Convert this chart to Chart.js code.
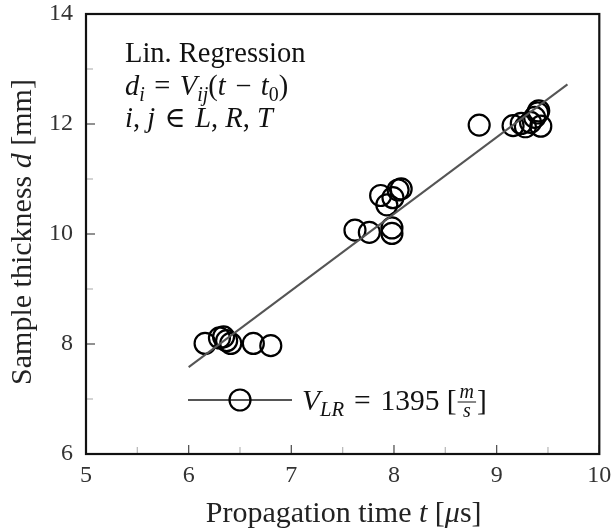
<!DOCTYPE html>
<html>
<head>
<meta charset="utf-8">
<script src="https://cdn.jsdelivr.net/npm/chart.js@4.4.0/dist/chart.umd.min.js"></script>
<style>
html,body{margin:0;padding:0;background:#fff;}
#wrap{width:612px;height:530px;}
</style>
</head>
<body>
<div id="wrap"><canvas id="c" width="612" height="530"></canvas></div>
<script>
// ---- data ----
const timeValues = [6.16, 6.30, 6.34, 6.37, 6.41, 6.63, 6.80,
                    7.62, 7.76, 7.87, 7.93, 7.99, 7.98, 7.98, 8.04, 8.07,
                    8.83, 9.16, 9.24, 9.28, 9.33, 9.37, 9.40, 9.41, 9.43];
const thicknessValues = [8.01, 8.11, 8.13, 8.06, 8.01, 8.01, 7.97,
                         10.07, 10.03, 10.70, 10.53, 10.66, 10.11, 10.01, 10.80, 10.82,
                         11.98, 11.97, 12.01, 11.95, 12.03, 12.12, 12.20, 12.24, 11.96];
const fitTime = [6.0, 9.69];
const fitThickness = [7.58, 12.72];
const xTicks = [5, 6, 7, 8, 9, 10];
const yTicks = [6, 8, 10, 12, 14];
const legendLabel = 'V_LR = 1395 [m/s]';

const SERIF = '"Liberation Serif", "DejaVu Serif", serif';

function segFont(s, size) {
  const sz = s.sub ? size * 0.7 : size;
  return (s.i ? 'italic ' : '') + sz + 'px ' + SERIF;
}
function richWidth(ctx, segs, size) {
  let w = 0;
  for (const s of segs) {
    ctx.font = segFont(s, size);
    w += ctx.measureText(s.t).width;
  }
  return w;
}
function drawRich(ctx, x, y, segs, size, align) {
  const w = richWidth(ctx, segs, size);
  let cx = align === 'center' ? x - w / 2 : x;
  ctx.textBaseline = 'alphabetic';
  ctx.textAlign = 'left';
  for (const s of segs) {
    ctx.font = segFont(s, size);
    const dy = s.sub ? size * 0.22 : 0;
    ctx.fillText(s.t, cx, y + dy);
    cx += ctx.measureText(s.t).width;
  }
  return cx;
}

const points = timeValues.map((t, i) => ({x: t, y: thicknessValues[i]}));
const fitLine = fitTime.map((t, i) => ({x: t, y: fitThickness[i]}));

const OP = '\u2004';

const decorPlugin = {
  id: 'decor',
  afterDatasetsDraw(chart) {
    const ctx = chart.ctx;
    const a = chart.chartArea;
    const xs = chart.scales.x, ys = chart.scales.y;
    ctx.save();
    // inward tick marks
    xs.ticks.forEach(tk => {
      const px = xs.getPixelForValue(tk.value);
      const major = xTicks.includes(tk.value);
      ctx.strokeStyle = major ? '#555' : '#bbb';
      ctx.lineWidth = 1.3;
      ctx.beginPath();
      ctx.moveTo(px, a.bottom);
      ctx.lineTo(px, a.bottom - (major ? 9 : 7));
      ctx.stroke();
    });
    ys.ticks.forEach(tk => {
      const py = ys.getPixelForValue(tk.value);
      const major = yTicks.includes(tk.value);
      ctx.strokeStyle = major ? '#555' : '#bbb';
      ctx.lineWidth = 1.3;
      ctx.beginPath();
      ctx.moveTo(a.left, py);
      ctx.lineTo(a.left + (major ? 9 : 7), py);
      ctx.stroke();
    });
    // frame
    ctx.strokeStyle = '#111';
    ctx.lineWidth = 2.2;
    ctx.strokeRect(a.left, a.top, a.right - a.left, a.bottom - a.top);

    // annotation text
    ctx.fillStyle = '#111';
    const fs = 28.5;
    const ax = a.left + 39;
    drawRich(ctx, ax, a.top + 48, [{t: 'Lin. Regression'}], fs);
    drawRich(ctx, ax, a.top + 81, [
      {t: 'd', i: true}, {t: 'i', i: true, sub: true}, {t: OP + '=' + OP},
      {t: 'V', i: true}, {t: 'ij', i: true, sub: true}, {t: '('},
      {t: 't', i: true}, {t: OP + '\u2212' + OP}, {t: 't', i: true}, {t: '0', sub: true}, {t: ')'}
    ], fs);
    drawRich(ctx, ax, a.top + 113, [
      {t: 'i', i: true}, {t: ', '}, {t: 'j', i: true}, {t: OP + '\u2208' + OP},
      {t: 'L', i: true}, {t: ', '}, {t: 'R', i: true}, {t: ', '}, {t: 'T', i: true}
    ], fs);

    // legend
    const ly = a.top + 386;
    const lx0 = a.left + 102, lx1 = a.left + 206;
    ctx.strokeStyle = '#555';
    ctx.lineWidth = 2;
    ctx.beginPath(); ctx.moveTo(lx0, ly); ctx.lineTo(lx1, ly); ctx.stroke();
    ctx.strokeStyle = '#000';
    ctx.lineWidth = 2.2;
    ctx.beginPath(); ctx.arc((lx0 + lx1) / 2, ly, 10.5, 0, Math.PI * 2); ctx.stroke();
    const tx = drawRich(ctx, lx1 + 10, ly + 10, [
      {t: 'V', i: true}, {t: 'LR', i: true, sub: true}, {t: OP + '=' + OP + '1395 ['}
    ], 29.5);
    // fraction m/s
    ctx.font = 'italic 20px ' + SERIF;
    const fw = Math.max(ctx.measureText('m').width, ctx.measureText('s').width) + 2;
    ctx.textAlign = 'center';
    ctx.fillText('m', tx + fw / 2 + 2, ly - 2);
    ctx.fillText('s', tx + fw / 2 + 2, ly + 17);
    ctx.lineWidth = 1;
    ctx.strokeStyle = '#111';
    ctx.beginPath(); ctx.moveTo(tx + 1, ly + 2); ctx.lineTo(tx + fw + 3, ly + 2); ctx.stroke();
    ctx.textAlign = 'left';
    ctx.font = '29.5px ' + SERIF;
    ctx.fillText(']', tx + fw + 4, ly + 10);

    // axis titles
    ctx.fillStyle = '#222';
    drawRich(ctx, (a.left + a.right) / 2 + 1, 522, [
      {t: 'Propagation time '}, {t: 't', i: true}, {t: ' ['}, {t: '\u03bc', i: true}, {t: 's]'}
    ], 30, 'center');
    ctx.translate(31, (a.top + a.bottom) / 2 - 2);
    ctx.rotate(-Math.PI / 2);
    drawRich(ctx, 0, 0, [
      {t: 'Sample thickness '}, {t: 'd', i: true}, {t: ' [mm]'}
    ], 30, 'center');
    ctx.restore();
  }
};

new Chart(document.getElementById('c'), {
  type: 'scatter',
  data: {
    datasets: [
      {
        label: legendLabel,
        data: points,
        pointRadius: 10.5,
        pointHoverRadius: 10.5,
        pointBorderWidth: 2.2,
        borderColor: '#000',
        backgroundColor: 'rgba(0,0,0,0)',
        showLine: false,
        order: 2
      },
      {
        label: 'fit',
        type: 'line',
        data: fitLine,
        borderColor: '#555',
        borderWidth: 2,
        pointRadius: 0,
        showLine: true,
        fill: false,
        order: 1
      }
    ]
  },
  options: {
    responsive: false,
    animation: false,
    devicePixelRatio: 1,
    layout: {padding: {top: 14, right: 10, left: 0, bottom: 0}},
    plugins: {legend: {display: false}, tooltip: {enabled: false}},
    scales: {
      x: {
        type: 'linear', min: 5, max: 10,
        grid: {display: false, drawTicks: false},
        border: {display: false},
        ticks: {
          stepSize: 0.5, autoSkip: false, maxRotation: 0, padding: 7,
          color: '#333', font: {family: SERIF, size: 24},
          callback: v => xTicks.includes(v) ? String(v) : ''
        },
        afterFit: s => { s.height = 76; s.paddingLeft = 0; s.paddingRight = 0; }
      },
      y: {
        type: 'linear', min: 6, max: 14,
        grid: {display: false, drawTicks: false},
        border: {display: false},
        ticks: {
          stepSize: 1, autoSkip: false, padding: 13,
          color: '#333', font: {family: SERIF, size: 24},
          callback: v => yTicks.includes(v) ? String(v) : ''
        },
        afterFit: s => { s.width = 86; s.paddingTop = 0; s.paddingBottom = 0; }
      }
    }
  },
  plugins: [decorPlugin]
});
</script>
</body>
</html>
